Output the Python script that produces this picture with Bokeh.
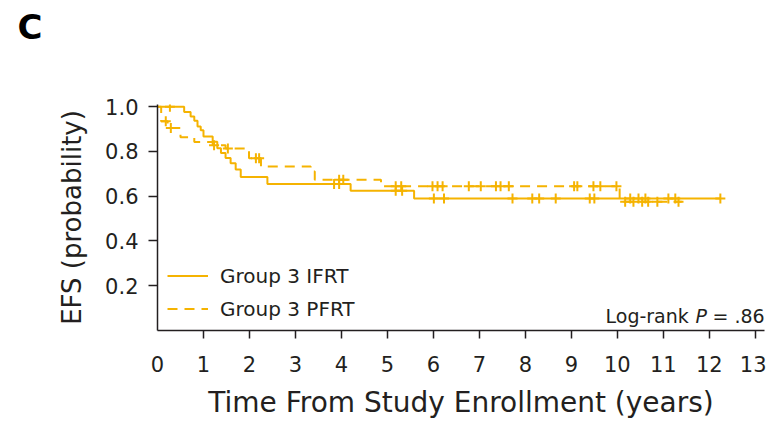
import bisect
from bokeh.plotting import figure
from bokeh.models import Range1d, FixedTicker, Label, Legend, LegendItem, PrintfTickFormatter, Title
from bokeh.embed import file_html
from bokeh.resources import INLINE

# ---- data ----
ifrt_t = [0, 0.58, 0.72, 0.80, 0.87, 0.94, 1.00, 1.20, 1.30, 1.38, 1.48, 1.59, 1.70, 1.81, 2.39, 4.20, 5.58, 12.24]
ifrt_s = [1.0, 0.976, 0.956, 0.937, 0.912, 0.895, 0.867, 0.844, 0.815, 0.793, 0.771, 0.748, 0.719, 0.686, 0.655, 0.625, 0.590, 0.590]
ifrt_cens = [0.27, 3.84, 3.95, 5.18, 5.32, 6.01, 6.23, 7.72, 8.15, 8.30, 8.66, 9.40, 9.50,
             10.28, 10.46, 10.61, 11.11, 11.26, 12.24]

pfrt_t = [0, 0.08, 0.22, 0.50, 0.80, 1.20, 1.48, 1.99, 2.25, 3.33, 3.42, 4.86, 10.05, 11.40]
pfrt_s = [1.0, 0.935, 0.905, 0.864, 0.842, 0.828, 0.813, 0.770, 0.733, 0.711, 0.674, 0.645, 0.575, 0.575]
pfrt_cens = [0.18, 0.29, 1.23, 1.53, 2.14, 2.21, 3.95, 4.04, 5.18, 5.30, 5.98, 6.09, 6.20, 6.77, 7.03,
             7.36, 7.46, 7.64, 9.06, 9.13, 9.48, 9.63, 9.98, 10.17, 10.35, 10.54, 10.67, 10.87, 11.33]

series_names = ["Group 3 IFRT", "Group 3 PFRT"]
x_ticks = list(range(0, 14))
y_ticks = [0.2, 0.4, 0.6, 0.8, 1.0]
panel_letter = "C"
x_title = "Time From Study Enrollment (years)"
y_title = "EFS (probability)"
pvalue_text = ["Log-rank", "P", "= .86"]


def on_curve(times, surv, ct):
    out = []
    for c in ct:
        i = bisect.bisect_right(times, c) - 1
        out.append(surv[max(i, 0)])
    return out


COLOR = "#F5B301"
INK = "#231F20"
FONT = "DejaVu Sans"

p = figure(width=766, height=421, x_range=Range1d(0, 13.2), y_range=Range1d(0, 1.01),
           output_backend="svg", toolbar_location=None,
           min_border_left=157, min_border_right=2, min_border_top=104, min_border_bottom=90)
p.outline_line_color = None
p.grid.grid_line_color = None
p.background_fill_color = "white"
p.border_fill_color = "white"
# panel letter as the (outer) title, spacer title between it and the frame
p.title = Title(text=panel_letter, align="left", offset=-140, standoff=0,
                text_font=FONT, text_font_size="34px", text_font_style="bold",
                text_color="black")
p.add_layout(Title(text=" ", text_font_size="2px", standoff=54), "above")

# axes
# x: labels on major ticks 0..13, tick marks (minor) only at 1..13
p.xaxis.ticker = FixedTicker(ticks=x_ticks, minor_ticks=x_ticks[1:])
p.yaxis.ticker = FixedTicker(ticks=y_ticks)
p.yaxis.formatter = PrintfTickFormatter(format="%.1f")
for ax in (p.xaxis, p.yaxis):
    ax.axis_line_color = INK
    ax.axis_line_width = 1.5
    ax.major_tick_line_color = INK
    ax.major_tick_line_width = 1.5
    ax.major_tick_in = 0
    ax.major_label_text_font = FONT
    ax.major_label_text_font_size = "21px"
    ax.major_label_text_color = INK
    ax.axis_label_text_font = FONT
    ax.axis_label_text_font_style = "normal"
    ax.axis_label_text_color = INK
p.yaxis.minor_tick_line_color = None
p.xaxis.major_tick_out = 0
p.xaxis.minor_tick_in = 0
p.xaxis.minor_tick_out = 8
p.xaxis.minor_tick_line_color = INK
p.xaxis.minor_tick_line_width = 1.5
p.xaxis.major_label_standoff = 17
p.yaxis.major_tick_out = 9
p.yaxis.major_label_standoff = 10
p.xaxis.axis_label = x_title
p.xaxis.axis_label_text_font_size = "28px"
p.xaxis.axis_label_standoff = 11
p.yaxis.axis_label = y_title
p.yaxis.axis_label_text_font_size = "26px"
p.yaxis.axis_label_standoff = 15

# curves
r1 = p.step(ifrt_t, ifrt_s, mode="after", line_color=COLOR, line_width=2)
r2 = p.step(pfrt_t, pfrt_s, mode="after", line_color=COLOR, line_width=2, line_dash="10 7")

# censor marks
p.scatter(ifrt_cens, on_curve(ifrt_t, ifrt_s, ifrt_cens), marker="cross", size=10,
          line_color=COLOR, line_width=2)
p.scatter(pfrt_cens, on_curve(pfrt_t, pfrt_s, pfrt_cens), marker="cross", size=10,
          line_color=COLOR, line_width=2)

legend = Legend(items=[LegendItem(label=series_names[0], renderers=[r1]),
                       LegendItem(label=series_names[1], renderers=[r2])],
                location=(10, 5), padding=0, margin=0, spacing=0,
                glyph_width=41, glyph_height=33, label_height=33, label_standoff=12,
                border_line_alpha=0, background_fill_alpha=0,
                label_text_font=FONT, label_text_font_size="20px", label_text_color=INK)
p.add_layout(legend)

# log-rank annotation (screen units relative to plot frame, y up)
p.add_layout(Label(x=448, y=15, x_units="screen", y_units="screen", text=pvalue_text[0],
                   text_font=FONT, text_font_size="19px", text_color=INK, text_baseline="alphabetic"))
p.add_layout(Label(x=538, y=15, x_units="screen", y_units="screen", text=pvalue_text[1],
                   text_font=FONT, text_font_size="19px", text_font_style="italic",
                   text_color=INK, text_baseline="alphabetic"))
p.add_layout(Label(x=555, y=15, x_units="screen", y_units="screen", text=pvalue_text[2],
                   text_font=FONT, text_font_size="19px", text_color=INK, text_baseline="alphabetic"))

open("out.html", "w").write(file_html(p, INLINE))
